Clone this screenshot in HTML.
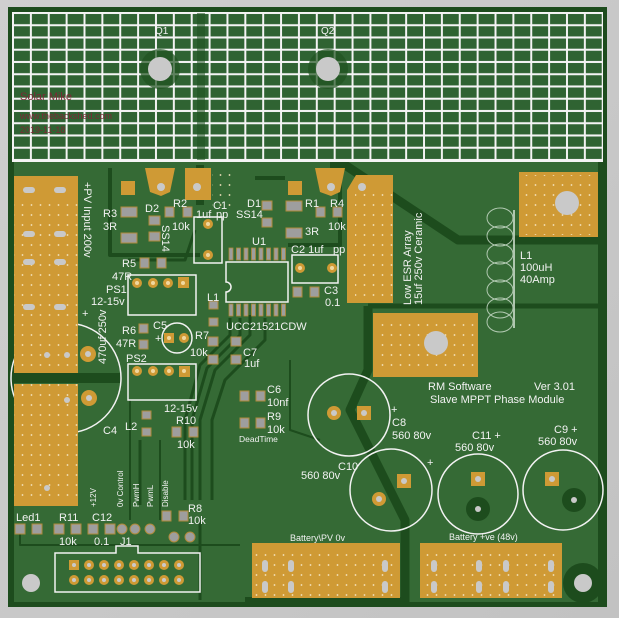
<!DOCTYPE html>
<html><head><meta charset="utf-8"><style>
html,body{margin:0;padding:0;background:#c9c9c9;}
svg{display:block;}
text{font-family:"Liberation Sans",sans-serif;fill:#f2f2f2;}
</style></head><body>
<svg width="619" height="618" viewBox="0 0 619 618" xmlns="http://www.w3.org/2000/svg">
<defs>
<pattern id="grid" patternUnits="userSpaceOnUse" x="13" y="13" width="17.87" height="12.25">
<rect x="1" y="1" width="15.9" height="10.2" fill="#2f6332"/>
</pattern>
<pattern id="via" patternUnits="userSpaceOnUse" x="0" y="0" width="9" height="10">
<circle cx="4.5" cy="5" r="0.9" fill="#f4e4c0"/>
</pattern>
<linearGradient id="bg" x1="0" y1="0" x2="1" y2="1"><stop offset="0" stop-color="#cfcfcf"/><stop offset="1" stop-color="#c2c2c2"/></linearGradient>
</defs>
<rect width="619" height="618" fill="url(#bg)"/>
<rect x="8" y="7" width="599" height="600" fill="#1d4c1d"/>
<rect x="14" y="12" width="584" height="590" fill="#356a35"/>
<g stroke="#1d4c1d" fill="none" stroke-linejoin="round">
<path d="M330 165 L345 165 L458 240 L600 240" stroke-width="9"/>
<path d="M368 306 L600 306" stroke-width="5"/>
<path d="M368 306 L368 370 L350 410 L405 520 L405 602" stroke-width="9"/>
<path d="M110 168 L110 255 L200 255" stroke-width="4"/>
<path d="M200 165 L200 205" stroke-width="8"/>
<path d="M340 175 L340 245 L288 245" stroke-width="4"/>
<path d="M255 178 L285 178" stroke-width="4"/>
<path d="M250 315 L250 335 L215 370 L200 420 L200 500" stroke-width="3"/>
<path d="M240 318 L240 335 L207 368 L192 420 L192 500" stroke-width="3"/>
<path d="M230 318 L230 335 L200 365 L185 420 L185 500" stroke-width="3"/>
<path d="M265 318 L265 340 L225 380 L212 420 L212 500" stroke-width="3"/>
<path d="M140 440 L140 505" stroke-width="3"/>
<path d="M130 400 L130 520" stroke-width="2"/>
<path d="M160 440 L160 520" stroke-width="2"/>
<path d="M20 524 L20 545 L240 545" stroke-width="2"/>
<path d="M200 520 L200 600" stroke-width="3"/>
<path d="M290 360 L290 430 L320 440" stroke-width="2"/>
<path d="M195 230 L185 260 L128 260" stroke-width="3"/>
<path d="M14 378 L120 378" stroke-width="10"/>
<path d="M245 600 L405 600" stroke-width="6"/>
</g>
<rect x="12" y="12" width="591" height="150" fill="#f4f4f4"/>
<rect x="13" y="13" width="589" height="147" fill="url(#grid)"/>
<rect x="197" y="13" width="8" height="147" fill="#1f5220" opacity="0.55"/>
<circle cx="160" cy="69" r="20" fill="#1f5220" opacity="0.7"/>
<circle cx="328" cy="69" r="20" fill="#1f5220" opacity="0.7"/>
<circle cx="160" cy="69" r="12" fill="#c9c9c9"/>
<circle cx="328" cy="69" r="12" fill="#c9c9c9"/>
<text x="155" y="34" font-size="10" fill="#ddd">Q1</text>
<text x="321" y="34" font-size="10" fill="#ddd">Q2</text>
<text x="20" y="100" font-size="11" style="fill:#7a2a36">Solar Mike</text>
<text x="20" y="119" font-size="9" style="fill:#7a2a36">www.thebackshed.com</text>
<text x="20" y="133" font-size="9" style="fill:#7a2a36">2019-11-18</text>

<circle cx="66" cy="378" r="55" fill="none" stroke="#f2f2f2" stroke-width="1.5"/>

<g fill="#cf9a35">
<rect x="14" y="176" width="64" height="197"/>
<rect x="14" y="384" width="64" height="122"/>
<path d="M356 175 L393 175 L393 303 L347 303 L347 190 Z"/>
<rect x="519" y="172" width="79" height="65"/>
<rect x="373" y="313" width="105" height="64"/>
<rect x="252" y="543" width="148" height="55"/>
<rect x="420" y="543" width="142" height="55"/>
<path d="M145 168 L175 168 L170 192 L161 196 L150 192 Z"/>
<path d="M315 168 L345 168 L340 192 L331 196 L320 192 Z"/>
<rect x="185" y="168" width="26" height="32"/>
<rect x="121" y="181" width="14" height="14"/>
<rect x="288" y="181" width="14" height="14"/>
</g>
<g fill="url(#via)">
<rect x="14" y="200" width="64" height="170"/>
<rect x="14" y="384" width="64" height="120"/>
<rect x="355" y="190" width="38" height="110"/>
<rect x="522" y="175" width="74" height="60"/>
<rect x="376" y="316" width="100" height="58"/>
<rect x="254" y="546" width="144" height="50"/>
<rect x="422" y="546" width="138" height="50"/>
<rect x="212" y="168" width="20" height="40"/>
</g>
<g fill="#c9c9c9">
<rect x="23" y="187" width="12" height="6" rx="3"/><rect x="54" y="187" width="12" height="6" rx="3"/>
<rect x="23" y="231" width="12" height="6" rx="3"/><rect x="54" y="231" width="12" height="6" rx="3"/>
<rect x="23" y="259" width="12" height="6" rx="3"/><rect x="54" y="259" width="12" height="6" rx="3"/>
<rect x="23" y="304" width="12" height="6" rx="3"/><rect x="54" y="304" width="12" height="6" rx="3"/>
<circle cx="47" cy="355" r="3"/><circle cx="67" cy="355" r="3"/><circle cx="67" cy="400" r="3"/><circle cx="47" cy="488" r="3"/>
<circle cx="567" cy="203" r="12"/><circle cx="436" cy="343" r="12"/>
<circle cx="161" cy="187" r="4"/><circle cx="331" cy="187" r="4"/><circle cx="197" cy="187" r="4"/><circle cx="362" cy="187" r="4"/>
</g>
<g fill="#c9c9c9">
<rect x="262" y="560" width="6" height="12" rx="3"/><rect x="288" y="560" width="6" height="12" rx="3"/><rect x="382" y="560" width="6" height="12" rx="3"/>
<rect x="262" y="581" width="6" height="12" rx="3"/><rect x="288" y="581" width="6" height="12" rx="3"/><rect x="382" y="581" width="6" height="12" rx="3"/>
<rect x="431" y="560" width="6" height="12" rx="3"/><rect x="476" y="560" width="6" height="12" rx="3"/><rect x="503" y="560" width="6" height="12" rx="3"/><rect x="548" y="560" width="6" height="12" rx="3"/>
<rect x="431" y="581" width="6" height="12" rx="3"/><rect x="476" y="581" width="6" height="12" rx="3"/><rect x="503" y="581" width="6" height="12" rx="3"/><rect x="548" y="581" width="6" height="12" rx="3"/>
</g>
<circle cx="583" cy="583" r="20" fill="#1d4c1d"/><circle cx="583" cy="583" r="9" fill="#c9c9c9"/>
<circle cx="31" cy="583" r="9" fill="#c9c9c9"/>

<g fill="none" stroke="#cfe0cf" stroke-width="1" opacity="0.8">
<ellipse cx="500" cy="218" rx="13" ry="10"/><ellipse cx="500" cy="236" rx="13" ry="10"/><ellipse cx="500" cy="254" rx="13" ry="10"/>
<ellipse cx="500" cy="272" rx="13" ry="10"/><ellipse cx="500" cy="290" rx="13" ry="10"/><ellipse cx="500" cy="308" rx="13" ry="10"/><ellipse cx="500" cy="322" rx="13" ry="10"/>
<line x1="514" y1="210" x2="514" y2="328" stroke-width="2"/>
</g>

<g fill="none" stroke="#f2f2f2" stroke-width="1.5">
<circle cx="349" cy="415" r="41"/>
<circle cx="391" cy="490" r="41"/>
<circle cx="478" cy="494" r="40"/>
<circle cx="563" cy="490" r="40"/>
<circle cx="177" cy="338" r="15"/>
<rect x="194" y="217" width="28" height="46"/>
<path d="M226 262 H288 V302 H226 V292 A5 5 0 0 0 226 282 Z"/>
<rect x="292" y="255" width="46" height="28"/>
<rect x="128" y="275" width="68" height="40"/>
<rect x="128" y="364" width="68" height="36"/>
<path d="M55 553 H116 V546 H138 V553 H200 V592 H55 Z"/>
</g>
<circle cx="88" cy="354" r="8" fill="#cf9a35"/><circle cx="88" cy="354" r="3" fill="#c9c9c9"/>
<circle cx="89" cy="398" r="8" fill="#cf9a35"/><circle cx="89" cy="398" r="3" fill="#c9c9c9"/>
<circle cx="334" cy="413" r="7" fill="#cf9a35"/><circle cx="334" cy="413" r="3" fill="#c9c9c9"/>
<rect x="357" y="406" width="14" height="14" fill="#cf9a35"/><circle cx="364" cy="413" r="3" fill="#c9c9c9"/>
<rect x="397" y="474" width="14" height="14" fill="#cf9a35"/><circle cx="404" cy="481" r="3" fill="#c9c9c9"/>
<circle cx="379" cy="499" r="7" fill="#cf9a35"/><circle cx="379" cy="499" r="3" fill="#c9c9c9"/>
<rect x="471" y="472" width="14" height="14" fill="#cf9a35"/><circle cx="478" cy="479" r="3" fill="#c9c9c9"/>
<circle cx="478" cy="509" r="12" fill="#1d4c1d"/><circle cx="478" cy="509" r="3" fill="#c9c9c9"/>
<rect x="545" y="472" width="14" height="14" fill="#cf9a35"/><circle cx="552" cy="479" r="3" fill="#c9c9c9"/>
<circle cx="574" cy="500" r="12" fill="#1d4c1d"/><circle cx="574" cy="500" r="3" fill="#c9c9c9"/>

<g fill="#cf9a35">
<circle cx="208" cy="224" r="5"/><circle cx="208" cy="255" r="5"/>
<circle cx="300" cy="268" r="5"/><circle cx="332" cy="268" r="5"/>
<circle cx="137" cy="283" r="5"/><circle cx="153" cy="283" r="5"/><circle cx="168" cy="283" r="5"/>
<circle cx="137" cy="371" r="5"/><circle cx="153" cy="371" r="5"/><circle cx="169" cy="371" r="5"/>
<circle cx="184" cy="338" r="5"/>
<rect x="178" y="277" width="11" height="11"/><rect x="179" y="366" width="11" height="11"/><rect x="164" y="333" width="10" height="10"/>
</g>
<g fill="#f0d8a0">
<circle cx="208" cy="224" r="2"/><circle cx="208" cy="255" r="2"/><circle cx="300" cy="268" r="2"/><circle cx="332" cy="268" r="2"/>
<circle cx="137" cy="283" r="2"/><circle cx="153" cy="283" r="2"/><circle cx="168" cy="283" r="2"/><circle cx="183" cy="283" r="2"/>
<circle cx="137" cy="371" r="2"/><circle cx="153" cy="371" r="2"/><circle cx="169" cy="371" r="2"/><circle cx="184" cy="371" r="2"/>
<circle cx="169" cy="338" r="2"/><circle cx="184" cy="338" r="2"/>
</g>
<g fill="#cf9a35">
<rect x="69" y="560" width="10" height="10"/>
<circle cx="89" cy="565" r="5"/><circle cx="104" cy="565" r="5"/><circle cx="119" cy="565" r="5"/><circle cx="134" cy="565" r="5"/><circle cx="149" cy="565" r="5"/><circle cx="164" cy="565" r="5"/><circle cx="179" cy="565" r="5"/>
<circle cx="74" cy="580" r="5"/><circle cx="89" cy="580" r="5"/><circle cx="104" cy="580" r="5"/><circle cx="119" cy="580" r="5"/><circle cx="134" cy="580" r="5"/><circle cx="149" cy="580" r="5"/><circle cx="164" cy="580" r="5"/><circle cx="179" cy="580" r="5"/>
</g>
<g fill="#c9c9c9">
<circle cx="74" cy="565" r="2"/><circle cx="89" cy="565" r="2"/><circle cx="104" cy="565" r="2"/><circle cx="119" cy="565" r="2"/><circle cx="134" cy="565" r="2"/><circle cx="149" cy="565" r="2"/><circle cx="164" cy="565" r="2"/><circle cx="179" cy="565" r="2"/>
<circle cx="74" cy="580" r="2"/><circle cx="89" cy="580" r="2"/><circle cx="104" cy="580" r="2"/><circle cx="119" cy="580" r="2"/><circle cx="134" cy="580" r="2"/><circle cx="149" cy="580" r="2"/><circle cx="164" cy="580" r="2"/><circle cx="179" cy="580" r="2"/>
</g>
<g fill="#9e9e9e" stroke="#b08a3a" stroke-width="1">
<circle cx="122" cy="529" r="5"/><circle cx="135" cy="529" r="5"/><circle cx="150" cy="529" r="5"/>
<circle cx="174" cy="537" r="5"/><circle cx="190" cy="537" r="5"/>
</g>
<g fill="#9e9e9e" stroke="#b08a3a" stroke-width="1">
<rect x="121" y="207" width="16" height="10"/><rect x="121" y="233" width="16" height="10"/>
<rect x="149" y="216" width="11" height="9"/><rect x="149" y="232" width="11" height="9"/>
<rect x="165" y="207" width="9" height="10"/><rect x="183" y="207" width="9" height="10"/>
<rect x="262" y="201" width="10" height="9"/><rect x="262" y="218" width="10" height="9"/>
<rect x="286" y="201" width="16" height="10"/><rect x="286" y="228" width="16" height="10"/>
<rect x="316" y="207" width="9" height="10"/><rect x="333" y="207" width="9" height="10"/>
<rect x="140" y="258" width="9" height="10"/><rect x="157" y="258" width="9" height="10"/>
<rect x="293" y="287" width="9" height="10"/><rect x="310" y="287" width="9" height="10"/>
<rect x="209" y="301" width="9" height="8"/><rect x="209" y="318" width="9" height="8"/>
<rect x="139" y="324" width="9" height="9"/><rect x="139" y="340" width="9" height="9"/>
<rect x="208" y="337" width="10" height="9"/><rect x="208" y="355" width="10" height="9"/>
<rect x="231" y="337" width="10" height="9"/><rect x="231" y="355" width="10" height="9"/>
<rect x="240" y="391" width="9" height="10"/><rect x="256" y="391" width="9" height="10"/>
<rect x="240" y="418" width="9" height="10"/><rect x="256" y="418" width="9" height="10"/>
<rect x="142" y="411" width="9" height="8"/><rect x="142" y="428" width="9" height="8"/>
<rect x="172" y="427" width="9" height="10"/><rect x="189" y="427" width="9" height="10"/>
<rect x="162" y="511" width="9" height="10"/><rect x="179" y="511" width="9" height="10"/>
<rect x="15" y="524" width="10" height="10"/><rect x="32" y="524" width="10" height="10"/>
<rect x="54" y="524" width="10" height="10"/><rect x="71" y="524" width="10" height="10"/>
<rect x="88" y="524" width="10" height="10"/><rect x="105" y="524" width="10" height="10"/>
</g>
<g fill="#9e9e9e" stroke="#b08a3a" stroke-width="0.8">
<rect x="229" y="248" width="4" height="12"/><rect x="236.5" y="248" width="4" height="12"/><rect x="244" y="248" width="4" height="12"/><rect x="251.5" y="248" width="4" height="12"/><rect x="259" y="248" width="4" height="12"/><rect x="266.5" y="248" width="4" height="12"/><rect x="274" y="248" width="4" height="12"/><rect x="281.5" y="248" width="4" height="12"/>
<rect x="229" y="304" width="4" height="12"/><rect x="236.5" y="304" width="4" height="12"/><rect x="244" y="304" width="4" height="12"/><rect x="251.5" y="304" width="4" height="12"/><rect x="259" y="304" width="4" height="12"/><rect x="266.5" y="304" width="4" height="12"/><rect x="274" y="304" width="4" height="12"/><rect x="281.5" y="304" width="4" height="12"/>
</g>

<g font-size="11">
<text x="103" y="217">R3</text><text x="103" y="230">3R</text>
<text x="145" y="212">D2</text><text x="173" y="207">R2</text><text x="172" y="230">10k</text>
<text x="213" y="209">C1</text><text x="196" y="218">1uf</text><text x="216" y="218">pp</text>
<text x="247" y="207">D1</text><text x="236" y="218">SS14</text>
<text x="305" y="207">R1</text><text x="330" y="207">R4</text><text x="305" y="235">3R</text><text x="328" y="230">10k</text>
<text x="252" y="245">U1</text>
<text x="291" y="253">C2 1uf</text><text x="333" y="253">pp</text>
<text x="324" y="294">C3</text><text x="325" y="306">0.1</text>
<text x="122" y="267">R5</text><text x="112" y="280">47R</text>
<text x="106" y="293">PS1</text><text x="91" y="305">12-15v</text>
<text x="207" y="301">L1</text>
<text x="226" y="330">UCC21521CDW</text>
<text x="122" y="334">R6</text><text x="116" y="347">47R</text>
<text x="153" y="329">C5</text><text x="155" y="342">+</text>
<text x="195" y="339">R7</text><text x="190" y="356">10k</text>
<text x="243" y="356">C7</text><text x="244" y="367">1uf</text>
<text x="126" y="362">PS2</text>
<text x="164" y="412">12-15v</text>
<text x="125" y="430">L2</text><text x="176" y="424">R10</text><text x="177" y="448">10k</text>
<text x="267" y="393">C6</text><text x="267" y="406">10nf</text>
<text x="267" y="420">R9</text><text x="267" y="433">10k</text>
<text x="239" y="442" font-size="8.5">DeadTime</text>
<text x="103" y="434">C4</text><text x="82" y="317">+</text>
<text x="188" y="512">R8</text><text x="188" y="524">10k</text>
<text x="16" y="521">Led1</text><text x="59" y="521">R11</text><text x="92" y="521">C12</text>
<text x="59" y="545">10k</text><text x="94" y="545">0.1</text><text x="120" y="545">J1</text>
<text x="520" y="259">L1</text><text x="520" y="271">100uH</text><text x="520" y="283">40Amp</text>
<text x="428" y="390">RM Software</text><text x="534" y="390">Ver 3.01</text>
<text x="430" y="403">Slave MPPT Phase Module</text>
<text x="391" y="413">+</text><text x="392" y="426">C8</text><text x="392" y="439">560 80v</text>
<text x="338" y="470">C10</text><text x="301" y="479">560 80v</text>
<text x="427" y="466">+</text>
<text x="472" y="439">C11 +</text><text x="455" y="451">560 80v</text>
<text x="554" y="433">C9 +</text><text x="538" y="445">560 80v</text>
</g>
<g font-size="9">
<text x="290" y="541">Battery\PV 0v</text>
<text x="449" y="540">Battery +ve (48v)</text>
</g>
<g font-size="11">
<text transform="translate(84,182) rotate(90)">+PV Input 200v</text>
<text transform="translate(106,364) rotate(-90)">470uf 250v</text>
<text transform="translate(162,225) rotate(90)">SS14</text>
<text transform="translate(411,305) rotate(-90)">Low ESR Array</text>
<text transform="translate(422,305) rotate(-90)">15uf 250v Ceramic</text>
</g>
<g font-size="8">
<text transform="translate(96,507) rotate(-90)">+12V</text>
<text transform="translate(123,507) rotate(-90)">0v Control</text>
<text transform="translate(139,507) rotate(-90)">PwmH</text>
<text transform="translate(153,507) rotate(-90)">PwmL</text>
<text transform="translate(168,507) rotate(-90)">Disable</text>
</g>
</svg>
</body></html>
